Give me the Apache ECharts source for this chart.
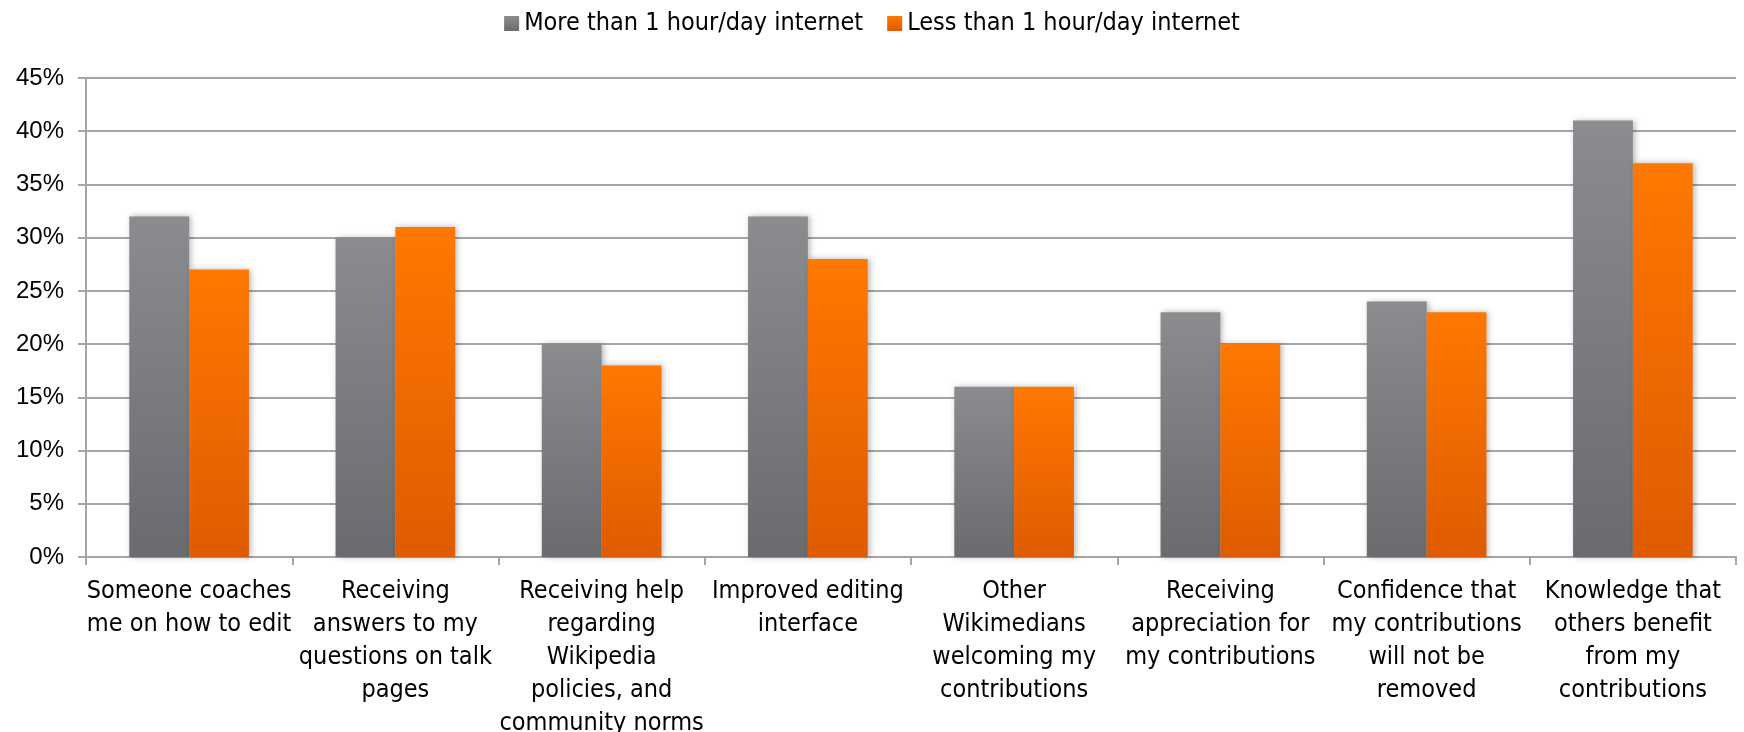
<!DOCTYPE html>
<html lang="en">
<head>
    <meta charset="UTF-8">
    <title>Internet use and editing motivators</title>
    <style>
        * { margin: 0; padding: 0; }
        body { background: #fff; }
        #chart { width: 1744px; height: 732px; }
    </style>
</head>
<body>
    <div id="chart"></div>
    <script src="https://cdn.jsdelivr.net/npm/echarts@6/dist/echarts.min.js"></script>
    <script>
        const categories = [
            'Someone coaches\nme on how to edit',
            'Receiving\nanswers to my\nquestions on talk\npages',
            'Receiving help\nregarding\nWikipedia\npolicies, and\ncommunity norms',
            'Improved editing\ninterface',
            'Other\nWikimedians\nwelcoming my\ncontributions',
            'Receiving\nappreciation for\nmy contributions',
            'Confidence that\nmy contributions\nwill not be\nremoved',
            'Knowledge that\nothers benefit\nfrom my\ncontributions'
        ];
        const moreThanHour = [32, 30, 20, 32, 16, 23, 24, 41];
        const lessThanHour = [27, 31, 18, 28, 16, 20, 23, 37];
        const seriesNames = ['More than 1 hour/day internet', 'Less than 1 hour/day internet'];

        const font = "'Liberation Sans Narrow', 'DejaVu Sans Condensed', 'Liberation Sans', sans-serif";

        function grad(top, bottom) {
            return new echarts.graphic.LinearGradient(0, 0, 0, 1, [
                { offset: 0, color: top },
                { offset: 1, color: bottom }
            ]);
        }

        const barShadow = {
            shadowBlur: 6,
            shadowColor: 'rgba(0,0,0,0.28)',
            shadowOffsetX: 2,
            shadowOffsetY: 0
        };

        var myChart = echarts.init(document.getElementById('chart'));
        myChart.setOption({
            animation: false,
            legend: {
                top: 6,
                left: 'center',
                itemWidth: 15,
                itemHeight: 15,
                itemGap: 24,
                icon: 'rect',
                textStyle: { fontFamily: font, fontSize: 25, color: '#000' },
                data: seriesNames
            },
            grid: { left: 86, right: 8, top: 78, bottom: 175, outerBoundsMode: 'none', containLabel: false },
            xAxis: {
                type: 'category',
                data: categories,
                axisLine: { lineStyle: { color: '#a5a5a5', width: 2 } },
                axisTick: { show: true, length: 8, lineStyle: { color: '#a5a5a5', width: 2 } },
                axisLabel: {
                    interval: 0,
                    margin: 18,
                    fontFamily: font,
                    fontSize: 25,
                    lineHeight: 33,
                    color: '#000',
                    align: 'center'
                }
            },
            yAxis: {
                type: 'value',
                min: 0,
                max: 45,
                interval: 5,
                axisLine: { show: true, lineStyle: { color: '#a5a5a5', width: 2 } },
                axisTick: { show: true, length: 8, lineStyle: { color: '#a5a5a5', width: 2 } },
                splitLine: { lineStyle: { color: '#a5a5a5', width: 2 } },
                axisLabel: {
                    formatter: '{value}%',
                    margin: 22,
                    fontFamily: "'Liberation Sans', Arial, sans-serif",
                    fontSize: 24,
                    color: '#000'
                }
            },
            series: [
                {
                    name: seriesNames[0],
                    type: 'bar',
                    data: moreThanHour,
                    barGap: '0%',
                    barCategoryGap: '42%',
                    itemStyle: Object.assign({ color: grad('#8b8c90', '#6a6b6f') }, barShadow)
                },
                {
                    name: seriesNames[1],
                    type: 'bar',
                    data: lessThanHour,
                    barGap: '0%',
                    barCategoryGap: '42%',
                    itemStyle: Object.assign({ color: grad('#ff7800', '#df5b00') }, barShadow)
                }
            ]
        });
    </script>
</body>
</html>
